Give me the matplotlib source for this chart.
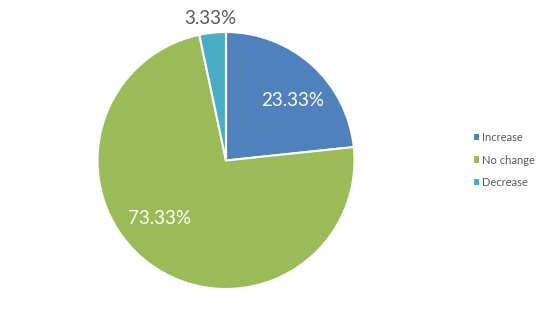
import numpy as np
import matplotlib
matplotlib.use("Agg")
import matplotlib.pyplot as plt

categories = ["Increase", "No change", "Decrease"]
values = [23.33, 73.33, 3.33]
colors = ["#4F81BD", "#9BBB59", "#4BACC6"]

plt.rcParams['font.family'] = ['Lato', 'DejaVu Sans']

W, H = 538, 314
fig = plt.figure(figsize=(W / 100, H / 100), dpi=100)
cx, cy, r = 226, 160.5, 128.5
pad = 1.15
ax = fig.add_axes([(cx - r * pad) / W, (H - cy - r * pad) / H, 2 * r * pad / W, 2 * r * pad / H])

wedges, texts, autotexts = ax.pie(
    values, colors=colors, startangle=90, counterclock=False,
    autopct=lambda p: f"{p:.2f}%", pctdistance=0.69,
    wedgeprops=dict(edgecolor="white", linewidth=1.5),
    textprops=dict(fontsize=13.5, color="white"),
)
ax.set_xlim(-pad, pad)
ax.set_ylim(-pad, pad)
ax.set_aspect("equal")

# label placement tweaks (angle offset in degrees, radius fraction)
tweaks = [(-6.0, 0.70), (-13, 0.69), (0.4, 1.11)]
for w, t, v, (da, rr) in zip(wedges, autotexts, values, tweaks):
    mid = np.deg2rad((w.theta1 + w.theta2) / 2 + da)
    t.set_position((rr * np.cos(mid), rr * np.sin(mid)))
    t.set_text(f"{v:.2f}%")
    t.set_ha("center")
    t.set_va("center")
autotexts[2].set_color("#595959")

leg = fig.legend(
    wedges, categories, loc="center left", bbox_to_anchor=(468 / W, 1 - 160 / H),
    frameon=False, fontsize=8, handlelength=0.5, handleheight=0.5,
    handletextpad=0.3, labelspacing=1.05, borderpad=0,
)
for t in leg.get_texts():
    t.set_color("#595959")
for h in leg.legend_handles:
    h.set_edgecolor("none")

fig.savefig("out.png", dpi=100)
